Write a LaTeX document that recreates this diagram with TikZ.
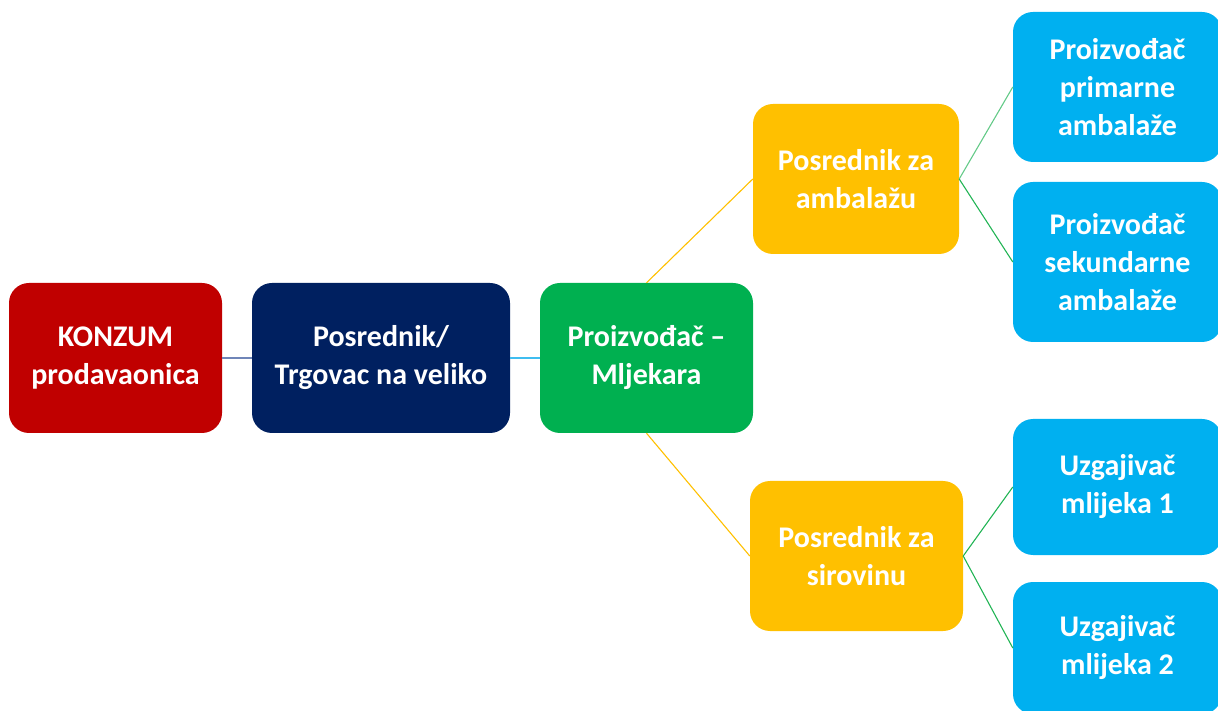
\documentclass[tikz,border=0pt]{standalone}
\usepackage{fontspec}
\setmainfont{Carlito}
\definecolor{cred}{HTML}{C00000}
\definecolor{cnavy}{HTML}{002060}
\definecolor{cgreen}{HTML}{00B050}
\definecolor{corange}{HTML}{FFC000}
\definecolor{cblue}{HTML}{00B0F0}
\definecolor{lnavy}{HTML}{6F85B8}
\definecolor{lblue}{HTML}{3FBDF0}
\definecolor{lgreen}{HTML}{22B455}
\tikzset{
  box/.style={rectangle, rounded corners=20pt, inner sep=0pt, text=white, align=center,
    font=\fontsize{30}{38}\selectfont\bfseries},
  link/.style={line width=1.1pt}
}
\begin{document}
\begin{tikzpicture}[x=1pt,y=1pt]
\useasboundingbox (0,0) rectangle (1218,710);
\clip (0,0) rectangle (1218,710);
\node[box, fill=cred, minimum width=213pt, minimum height=150pt] (konzum) at (115.5,352) {KONZUM\\prodavaonica};
\node[box, fill=cnavy, minimum width=258pt, minimum height=150pt] (posred) at (381,352) {Posrednik/\\Trgovac na veliko};
\node[box, fill=cgreen, minimum width=213pt, minimum height=150pt] (mlj) at (646.5,352) {Proizvođač –\\Mljekara};
\node[box, fill=corange, minimum width=206pt, minimum height=150pt] (amb) at (856,531) {Posrednik za\\ambalažu};
\node[box, fill=corange, minimum width=213pt, minimum height=150pt] (sir) at (856.5,154) {Posrednik za\\sirovinu};
\node[box, fill=cblue, minimum width=209pt, minimum height=150pt] (prim) at (1117.5,623) {Proizvođač\\primarne\\ambalaže};
\node[box, fill=cblue, minimum width=209pt, minimum height=160pt] (sek) at (1117.5,448) {Proizvođač\\sekundarne\\ambalaže};
\node[box, fill=cblue, minimum width=209pt, minimum height=136pt] (uzg1) at (1117.5,223) {Uzgajivač\\mlijeka 1};
\node[box, fill=cblue, minimum width=209pt, minimum height=132pt] (uzg2) at (1117.5,62) {Uzgajivač\\mlijeka 2};
\draw[link, lnavy] (konzum.east) -- (posred.west);
\draw[link, lblue] (posred.east) -- (mlj.west);
\draw[link, corange] (mlj.north) -- (amb.west);
\draw[link, corange] (mlj.south) -- (sir.west);
\draw[link, lgreen!70] (amb.east) -- (prim.west);
\draw[link, lgreen] (amb.east) -- (sek.west);
\draw[link, lgreen] (sir.east) -- (uzg1.west);
\draw[link, lgreen] (sir.east) -- (uzg2.west);
\end{tikzpicture}
\end{document}
